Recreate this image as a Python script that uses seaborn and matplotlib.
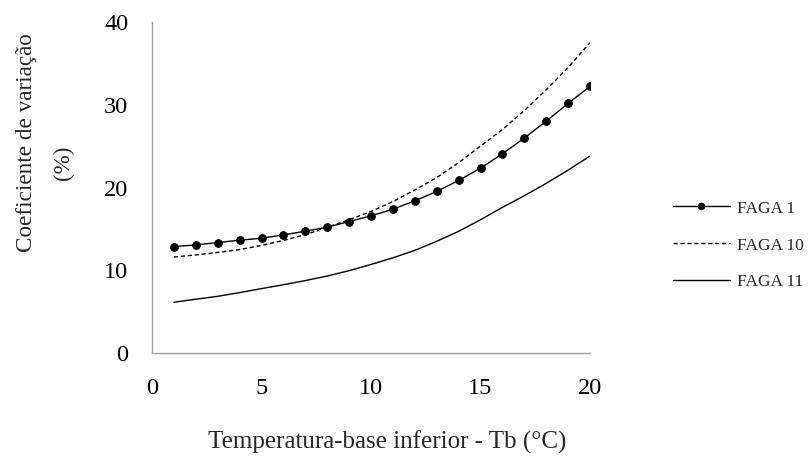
import matplotlib
matplotlib.use("Agg")
import matplotlib.pyplot as plt
import seaborn as sns
import pandas as pd

tb = list(range(1, 21))
faga1 = [12.86, 13.06, 13.35, 13.63, 13.87, 14.27, 14.72, 15.20, 15.89, 16.57,
         17.38, 18.39, 19.52, 20.85, 22.34, 24.07, 25.97, 28.02, 30.16, 32.22]
faga10 = [11.6, 11.85, 12.15, 12.5, 13.0, 13.6, 14.3, 15.2, 16.1, 17.1,
          18.3, 19.7, 21.2, 23.0, 25.0, 27.0, 29.3, 31.8, 34.5, 37.5]
faga11 = [6.13, 6.5, 6.85, 7.3, 7.78, 8.25, 8.75, 9.3, 9.95, 10.7,
          11.5, 12.4, 13.5, 14.7, 16.1, 17.6, 19.0, 20.5, 22.1, 23.8]
series_names = ["FAGA 1", "FAGA 10", "FAGA 11"]
xticks = [0, 5, 10, 15, 20]
yticks = [0, 10, 20, 30, 40]

df = pd.DataFrame({"tb": tb, "FAGA 1": faga1, "FAGA 10": faga10, "FAGA 11": faga11})

sns.set_style("white")
plt.rcParams["font.family"] = ["Liberation Serif", "DejaVu Serif"]

fig = plt.figure(figsize=(8.11, 4.57), dpi=100)
ax = fig.add_axes([152/811, 1-353/457, (590-152)/811, (353-22)/457])

sns.lineplot(data=df, x="tb", y="FAGA 1", ax=ax, color="black", lw=1.0,
             marker="o", markersize=5.5, markeredgecolor="black", label="FAGA 1")
sns.lineplot(data=df, x="tb", y="FAGA 10", ax=ax, color="black", lw=1.0,
             dashes=False, linestyle=(0, (3, 2)), label="FAGA 10")
sns.lineplot(data=df, x="tb", y="FAGA 11", ax=ax, color="black", lw=1.0,
             label="FAGA 11")

ax.set_xlim(0, 20)
ax.set_ylim(0, 40)
ax.set_xticks(xticks)
ax.set_yticks(yticks)
ax.set_xlabel("")
ax.set_ylabel("")
gray = "#a0a0a0"
for s in ["top", "right"]:
    ax.spines[s].set_visible(False)
for s in ["left", "bottom"]:
    ax.spines[s].set_color(gray)
    ax.spines[s].set_linewidth(1.0)
ax.tick_params(axis="both", colors=gray, labelcolor="black", labelsize=17.5,
               direction="out", width=1.0)
ax.tick_params(axis="x", length=7, pad=11)
ax.tick_params(axis="y", length=5, pad=12)
ax.margins(0)

leg = ax.legend(loc="center left", bbox_to_anchor=(1.173, 0.325), frameon=False,
                fontsize=12.5, handlelength=3.3, labelspacing=1.2, handletextpad=0.4,
                markerscale=0.85, borderaxespad=0.0)

fig.text(387/811, 1-442/457, "Temperatura-base inferior - Tb (\u00b0C)",
         ha="center", va="center", fontsize=18)
fig.text(27/811, 1-143/457, "Coeficiente de varia\u00e7\u00e3o", rotation=90,
         ha="center", va="center", fontsize=16.7)
fig.text(63/811, 1-163/457, "(%)", rotation=90, ha="center", va="center", fontsize=16.7)

fig.savefig("out.png", dpi=100)
